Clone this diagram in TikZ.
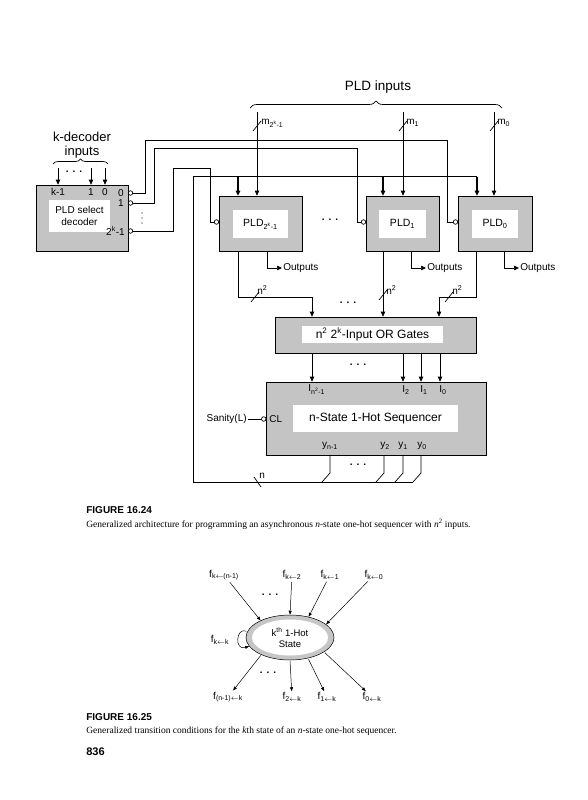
\documentclass[tikz,border=0pt]{standalone}
\usepackage{fontspec}
\setmainfont{Liberation Sans}
\newfontfamily\capserif{Liberation Serif}
\usetikzlibrary{arrows.meta, positioning, calc, decorations.pathreplacing, shapes.geometric}
\definecolor{boxgray}{HTML}{C4C4C4}
\definecolor{ringgray}{HTML}{C6C6C6}
\newcommand{\lsub}[1]{\textsubscript{#1}}
\newcommand{\lsup}[1]{\textsuperscript{#1}}
\newcommand{\busslash}[2]{\draw (#1-4,#2+5) -- ++(8,-10);}
\newcommand{\lar}{$\leftarrow$}
\newcommand{\spdots}{\textbf{.\hspace{4pt}.\hspace{4pt}.}}

\begin{document}
\begin{tikzpicture}[x=1pt, y=-1pt, line width=0.7pt,
  blk/.style={draw, fill=boxgray, inner sep=0pt},
  win/.style={fill=white, inner sep=0pt, align=center},
  bub/.style={draw, circle, fill=white, inner sep=0pt, minimum size=4.5pt},
  arr/.style={-{Triangle[length=5pt,width=4.5pt]}},
  sarr/.style={-{Triangle[length=4pt,width=3pt]}, line width=0.5pt, shorten <=1pt},
  lbl/.style={font=\fontsize{10}{11}\selectfont, inner sep=1pt},
  flbl/.style={font=\fontsize{10}{11}\selectfont, inner sep=1pt}]
  \fill[white] (0,0) rectangle (587,800);
  \useasboundingbox (0,0) rectangle (587,800);

  % decoder
  \node[blk, minimum width=92pt, minimum height=66pt] (dec) at (82,218) {};
  \node[win, minimum width=61pt, minimum height=32pt, font=\fontsize{10}{12}\selectfont] (decin) at (79.5,216) {PLD select\\decoder};
  \node[lbl] (dk) at (58,192) {k-1};
  \node[lbl] (d1) at (91,192) {1};
  \node[lbl] (d0) at (105,192) {0};
  \foreach \x in {58,91,105}
    \draw[arr] (\x,168) -- (\x,0 |- dec.north);
  \node[lbl] (ddots) at (74,172) {\spdots};
  \draw[decorate, decoration={brace, amplitude=5pt}] (53,164) -- (108,164);
  \node[align=center, font=\fontsize{13}{14}\selectfont] (dectxt) at (82,145) {k-decoder\\inputs};

  \node[bub] (o0) at (130.5,193) {};
  \node[bub] (o1) at (130.5,203) {};
  \node[bub] (on) at (130.5,231) {};
  \node[lbl, anchor=east] at (125,193) {0};
  \node[lbl, anchor=east] at (125,203) {1};
  \node[lbl, anchor=east] at (126,231) {2\lsup{k}-1};
  \foreach \y in {213,218,223}
    \fill (142,\y) circle (0.7pt);

  % PLDs
  \node[blk, minimum width=83pt, minimum height=55pt] (pldA) at (260.5,223.5) {};
  \node[win, minimum width=55pt, minimum height=28pt, font=\fontsize{10.5}{12}\selectfont] (pldAin) at (260.5,224) {PLD\lsub{2\lsup{k}-1}};
  \node[blk, minimum width=73pt, minimum height=55pt] (pldB) at (402.5,223.5) {};
  \node[win, minimum width=47pt, minimum height=28pt, font=\fontsize{10.5}{12}\selectfont] (pldBin) at (402.5,224) {PLD\lsub{1}};
  \node[blk, minimum width=74pt, minimum height=55pt] (pldC) at (495,223.5) {};
  \node[win, minimum width=46pt, minimum height=28pt, font=\fontsize{10.5}{12}\selectfont] (pldCin) at (495,224) {PLD\lsub{0}};
  \node[lbl] (pdots) at (330,220) {\spdots};

  \node[bub] (iA) at (216.5,222) {};
  \node[bub] (iB) at (363.5,222) {};
  \node[bub] (iC) at (455.5,222) {};

  % select lines
  \draw (o0) -- (145,193) -- (145,140) -- (447,140) -- (447,222) -- (iC);
  \draw (o1) -- (154,203) -- (154,148) -- (357,148) -- (357,222) -- (iB);
  \draw (on) -- (173,231) -- (173,168) -- (210,168) -- (210,222) -- (iA);

  % feedback bus
  \draw[line width=1.3pt] (192.5,176.5) -- (477,176.5);
  \foreach \x/\p in {238/pldA,383/pldB,477/pldC}
    \draw[arr, line width=1.3pt] (\x,176.5) -- (\x,0 |- \p.north);

  % PLD inputs
  \draw[decorate, decoration={brace, amplitude=7pt}] (250,108) -- (502,108);
  \node[font=\fontsize{13.5}{15}\selectfont] (pldtxt) at (378,87) {PLD inputs};
  \draw[arr] (257,112) -- (257,0 |- pldA.north);
  \busslash{257}{126}
  \node[lbl, anchor=west] at (260,123) {m\lsub{2\lsup{k}-1}};
  \draw[arr] (403,112) -- (403,0 |- pldB.north);
  \busslash{403}{126}
  \node[lbl, anchor=west] at (405,123) {m\lsub{1}};
  \draw[arr] (494,112) -- (494,0 |- pldC.north);
  \busslash{494}{126}
  \node[lbl, anchor=west] at (496,123) {m\lsub{0}};

  % outputs
  \node[lbl, anchor=west] (outA) at (282,268) {Outputs};
  \node[lbl, anchor=west] (outB) at (426,268) {Outputs};
  \node[lbl, anchor=west] (outC) at (519,268) {Outputs};
  \draw[arr] (267,0 |- pldA.south) |- (outA.west);
  \draw[arr] (411,0 |- pldB.south) |- (outB.west);
  \draw[arr] (504,0 |- pldC.south) |- (outC.west);

  % OR gates
  \node[blk, minimum width=201pt, minimum height=36pt] (org) at (375.5,335) {};
  \node[win, minimum width=141pt, minimum height=17pt, font=\fontsize{12}{14}\selectfont] (orgin) at (372.5,334.5) {n\lsup{2} 2\lsup{k}-Input OR Gates};
  \draw[arr] (238,0 |- pldA.south) -- (238,297) -- (312,297) -- (312,0 |- org.north);
  \busslash{255}{297}
  \node[lbl, anchor=west] at (256,290) {n\lsup{2}};
  \draw[arr] (383,0 |- pldB.south) -- (383,0 |- org.north);
  \busslash{383}{295}
  \node[lbl, anchor=west] at (385,290) {n\lsup{2}};
  \draw[arr] (476,0 |- pldC.south) -- (476,297) -- (439,297) -- (439,0 |- org.north);
  \busslash{449}{297}
  \node[lbl, anchor=west] at (451,290) {n\lsup{2}};
  \node[lbl] (odots) at (348,303) {\spdots};

  % sequencer
  \node[blk, minimum width=220pt, minimum height=73pt] (seq) at (376,418.5) {};
  \node[win, minimum width=165pt, minimum height=27pt, font=\fontsize{12}{14}\selectfont] (seqin) at (375.5,418.5) {n-State 1-Hot Sequencer};
  \foreach \x in {312,403,421,440}
    \draw[arr] (\x,0 |- org.south) -- (\x,0 |- seq.north);
  \node[lbl] (sdots) at (358,365) {\spdots};
  \node[lbl, anchor=west] at (307,390) {I\lsub{n\lsup{2}-1}};
  \node[lbl, anchor=west] at (401,390) {I\lsub{2}};
  \node[lbl, anchor=west] at (419,390) {I\lsub{1}};
  \node[lbl, anchor=west] at (438,390) {I\lsub{0}};

  \node[lbl, anchor=east] (san) at (248,419) {Sanity(L)};
  \node[bub] (cl) at (263.75,419) {};
  \draw (san) -- (cl);
  \node[lbl, anchor=west] at (268,419) {CL};

  \node[lbl] at (330,446) {y\lsub{n-1}};
  \node[lbl] at (385,446) {y\lsub{2}};
  \node[lbl] at (403,446) {y\lsub{1}};
  \node[lbl] at (422,446) {y\lsub{0}};
  \node[lbl] (ydots) at (358,465) {\spdots};
  \foreach \x in {330,384,403,421}
    \draw (\x,0 |- seq.south) -- (\x,473) -- (\x-8,482);
  \draw (413,482) -- (193,482) -- (193,176.5);
  \draw (254,477) -- ++(7,10);
  \node[lbl, anchor=west] at (258,476) {n};

  % caption 16.24
  \node[anchor=west, inner sep=0pt, font=\bfseries\fontsize{10}{12}\selectfont] (cap1) at (86,510) {FIGURE 16.24};
  \node[anchor=west, inner sep=0pt, font=\capserif\fontsize{9.5}{11}\selectfont] (txt1) at (86,524) {Generalized architecture for programming an asynchronous \textit{n}-state one-hot sequencer with \textit{n}\textsuperscript{2} inputs.};

  % one-hot state
  \node[ellipse, draw, line width=0.5pt, fill=ringgray, minimum width=88pt, minimum height=45pt, inner sep=0pt] (st) at (290,637.5) {};
  \node[ellipse, fill=white, minimum width=76pt, minimum height=36pt, inner sep=0pt] (stin) at (290,637.5) {};
  \node[align=center, font=\fontsize{9.5}{11}\selectfont] (stl) at (290,637.5) {k\lsup{th} 1-Hot\\State};

  \node[flbl] (fa) at (224,575) {f\lsub{k\lar(n-1)}};
  \node[flbl] (fb) at (292,575) {f\lsub{k\lar2}};
  \node[flbl] (fc) at (330,575) {f\lsub{k\lar1}};
  \node[flbl] (fd) at (374,575) {f\lsub{k\lar0}};
  \node[flbl] (fk) at (220,640) {f\lsub{k\lar k}};
  \node[flbl] (ga) at (228,697) {f\lsub{(n-1)\lar k}};
  \node[flbl] (gb) at (292,697) {f\lsub{2\lar k}};
  \node[flbl] (gc) at (327,697) {f\lsub{1\lar k}};
  \node[flbl] (gd) at (372,697) {f\lsub{0\lar k}};
  \node[flbl] (tdots) at (270,595) {\spdots};
  \node[flbl] (bdots) at (268,673) {\spdots};

  \draw[sarr] (fa) -- (st.150);
  \draw[sarr] (fb) -- (st.90);
  \draw[sarr] (fc) -- (st.48);
  \draw[sarr] (fd) -- (st.20);
  \draw[sarr] (st.172) .. controls (236,627) and (234,651) .. (st.192);
  \draw[sarr] (st.211) -- (ga);
  \draw[sarr] (st.270) -- (gb);
  \draw[sarr] (st.311) -- (gc);
  \draw[sarr] (st.337) -- (gd);

  % caption 16.25
  \node[anchor=west, inner sep=0pt, font=\bfseries\fontsize{10}{12}\selectfont] (cap2) at (86,717) {FIGURE 16.25};
  \node[anchor=west, inner sep=0pt, font=\capserif\fontsize{9.5}{11}\selectfont] (txt2) at (86,731) {Generalized transition conditions for the \textit{k}th state of an \textit{n}-state one-hot sequencer.};
  \node[anchor=west, inner sep=0pt, font=\bfseries\fontsize{11}{13}\selectfont] (pnum) at (86,752) {836};
\end{tikzpicture}
\end{document}
